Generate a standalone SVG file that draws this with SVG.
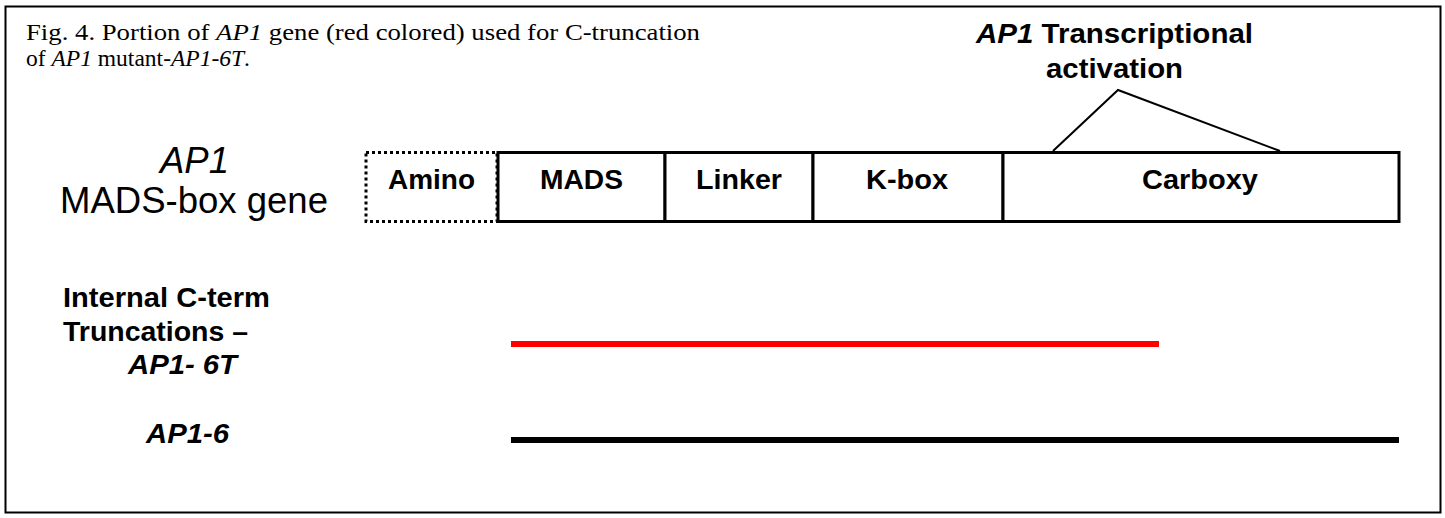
<svg xmlns="http://www.w3.org/2000/svg" width="1445" height="518" viewBox="0 0 1445 518">
<style>
.cap{font-family:"Liberation Serif","Times New Roman",serif;font-size:23px;fill:#000}
.lbl{font-family:"Liberation Sans",Arial,sans-serif;font-weight:bold;font-size:28px;fill:#000}
.big{font-family:"Liberation Sans",Arial,sans-serif;font-size:37px;fill:#000}
.box{fill:#fff;stroke:#000;stroke-width:3}
</style>
<rect x="5.5" y="6.5" width="1435" height="506" fill="#fff" stroke="#000" stroke-width="2"/>
<g id="caption">
<text class="cap" x="26" y="40" textLength="674" lengthAdjust="spacingAndGlyphs">Fig. 4. Portion of <tspan font-style="italic">AP1</tspan> gene (red colored) used for C-truncation</text>
<text class="cap" x="26" y="66" textLength="224" lengthAdjust="spacingAndGlyphs">of <tspan font-style="italic">AP1</tspan> mutant-<tspan font-style="italic">AP1-6T</tspan>.</text>
</g>
<g id="title-activation">
<text class="lbl" x="976" y="43" textLength="277" lengthAdjust="spacingAndGlyphs"><tspan font-style="italic">AP1</tspan> Transcriptional</text>
<text class="lbl" x="1046" y="78" textLength="137" lengthAdjust="spacingAndGlyphs">activation</text>
</g>
<g id="gene-label">
<text class="big" x="160" y="173" textLength="69" lengthAdjust="spacingAndGlyphs" font-style="italic">AP1</text>
<text class="big" x="60" y="213" textLength="268" lengthAdjust="spacingAndGlyphs">MADS-box gene</text>
</g>
<g id="amino">
<rect x="366" y="152.5" width="131" height="69" fill="#fff" stroke="#000" stroke-width="3" stroke-dasharray="3 3"/>
<text class="lbl" x="388" y="189" textLength="87" lengthAdjust="spacingAndGlyphs">Amino</text>
</g>
<g id="mads">
<rect class="box" x="498" y="152.5" width="167" height="69"/>
<text class="lbl" x="540" y="189" textLength="83" lengthAdjust="spacingAndGlyphs">MADS</text>
</g>
<g id="linker">
<rect class="box" x="665" y="152.5" width="148" height="69"/>
<text class="lbl" x="696" y="189" textLength="86" lengthAdjust="spacingAndGlyphs">Linker</text>
</g>
<g id="kbox">
<rect class="box" x="813" y="152.5" width="190" height="69"/>
<text class="lbl" x="866" y="189" textLength="82" lengthAdjust="spacingAndGlyphs">K-box</text>
</g>
<g id="carboxy">
<rect class="box" x="1003" y="152.5" width="396" height="69"/>
<text class="lbl" x="1142" y="189" textLength="116" lengthAdjust="spacingAndGlyphs">Carboxy</text>
</g>
<g id="connectors">
<polyline points="1053,151 1118,90 1280,151" fill="none" stroke="#000" stroke-width="2"/>
<line x1="511" y1="344" x2="1159" y2="344" stroke="#ff0000" stroke-width="6"/>
<line x1="511" y1="440" x2="1399" y2="440" stroke="#000" stroke-width="6"/>
</g>
<g id="truncation-labels">
<text class="lbl" x="63" y="307" textLength="207" lengthAdjust="spacingAndGlyphs">Internal C-term</text>
<text class="lbl" x="63" y="341" textLength="185" lengthAdjust="spacingAndGlyphs">Truncations –</text>
<text class="lbl" x="128" y="374" textLength="109" lengthAdjust="spacingAndGlyphs" font-style="italic">AP1- 6T</text>
<text class="lbl" x="146" y="443" textLength="83" lengthAdjust="spacingAndGlyphs" font-style="italic">AP1-6</text>
</g>
</svg>
